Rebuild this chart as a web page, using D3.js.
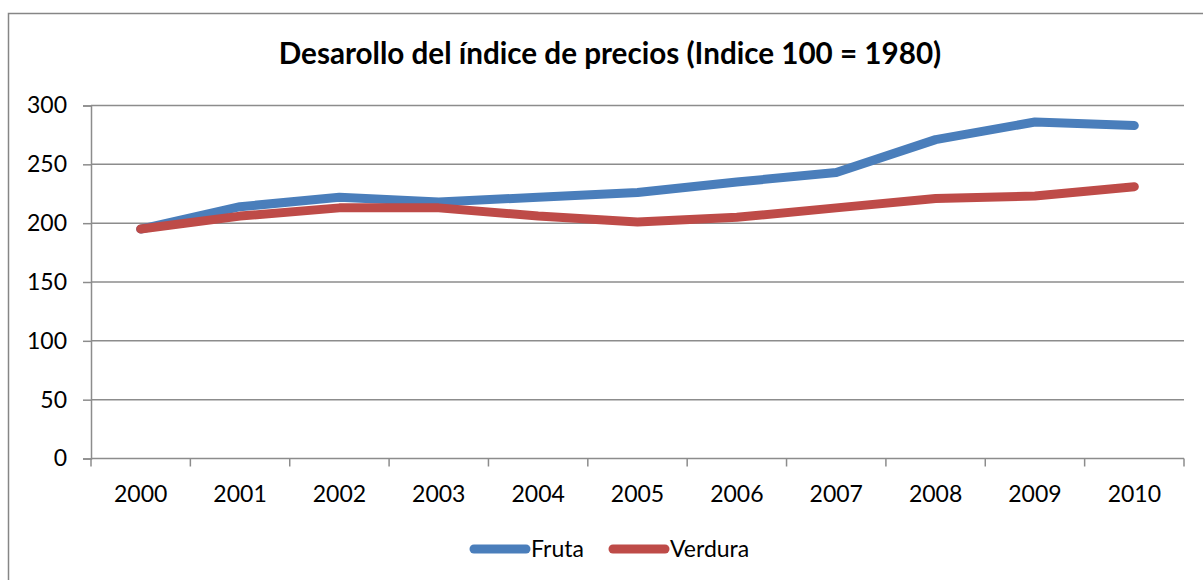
<!DOCTYPE html>
<html>
<head>
<meta charset="utf-8">
<script src="https://cdn.jsdelivr.net/npm/d3@7"></script>
<style>
  body { margin: 0; background: #fff; }
  text { font-family: Lato, "Open Sans", sans-serif; fill: #000; }
</style>
</head>
<body>
<div id="chart"></div>
<script>
var years = ['2000', '2001', '2002', '2003', '2004', '2005', '2006', '2007', '2008', '2009', '2010'];
var fruta = [195, 214, 222, 218, 222, 226, 235, 243, 271, 286, 283];
var verdura = [195, 206, 213, 213, 206, 201, 205, 213, 221, 223, 231];
var yTicks = [0, 50, 100, 150, 200, 250, 300];
var seriesNames = ['Fruta', 'Verdura'];
var seriesColors = ['#4a7ebb', '#be4b48'];

var width = 1203;
var height = 580;
var plotLeft = 91;
var plotRight = 1184;
var plotTop = 105.5;
var plotBottom = 458.5;

var svg = d3.select('#chart')
  .append('svg')
  .attr('width', width)
  .attr('height', height);

// outer chart frame (runs past the right and bottom edges)
svg.append('rect')
  .attr('x', 8.5)
  .attr('y', 13.5)
  .attr('width', 1400)
  .attr('height', 800)
  .style('fill', 'none')
  .style('stroke', '#868686')
  .style('stroke-width', 1.5);

var title = svg.append('text')
  .attr('x', 610)
  .attr('y', 64)
  .attr('text-anchor', 'middle')
  .style('font-weight', 'bold')
  .style('font-size', '22px')
  .text('Desarollo del índice de precios (Indice 100 = 1980)');

// fit title to the width seen in the picture
var tw = title.node().getComputedTextLength();
title.style('font-size', (22 * 663 / tw) + 'px');

var x = d3.scaleBand()
  .domain(years)
  .range([plotLeft, plotRight]);

var y = d3.scaleLinear()
  .domain([0, 300])
  .range([plotBottom, plotTop]);

// gridlines
svg.append('g')
  .selectAll('line')
  .data(yTicks.filter(function(d) { return d > 0; }))
  .enter()
  .append('line')
  .attr('x1', plotLeft)
  .attr('x2', plotRight)
  .attr('y1', function(d) { return y(d); })
  .attr('y2', function(d) { return y(d); })
  .style('stroke', '#8c8c8c')
  .style('stroke-width', 1.5);

// y axis
var yAxis = svg.append('g')
  .attr('transform', 'translate(' + plotLeft + ',0)')
  .call(d3.axisLeft(y).tickValues(yTicks).tickSize(8).tickPadding(16));

// x axis
var xAxis = svg.append('g')
  .attr('transform', 'translate(0,' + plotBottom + ')')
  .call(d3.axisBottom(x).tickSize(0).tickPadding(27));

xAxis.selectAll('.tick-mark')
  .data(d3.range(years.length + 1))
  .enter()
  .append('line')
  .attr('class', 'tick-mark')
  .attr('x1', function(i) { return plotLeft + i * x.step(); })
  .attr('x2', function(i) { return plotLeft + i * x.step(); })
  .attr('y1', 0)
  .attr('y2', 8)
  .style('stroke', '#8c8c8c')
  .style('stroke-width', 1.5);

[yAxis, xAxis].forEach(function(a) {
  a.select('.domain').style('stroke', '#8c8c8c').style('stroke-width', 1.5);
  a.selectAll('.tick line').style('stroke', '#8c8c8c').style('stroke-width', 1.5);
  a.selectAll('.tick text')
    .style('font-size', '23px')
    .style('font-family', 'Lato, "Open Sans", sans-serif')
    .style('fill', '#000');
});
xAxis.select('.domain').attr('d', 'M' + plotLeft + ',0H' + plotRight);

var line = d3.line()
  .x(function(d, i) { return x(years[i]) + x.bandwidth() / 2; })
  .y(function(d) { return y(d); });

[fruta, verdura].forEach(function(s, i) {
  svg.append('path')
    .datum(s)
    .attr('d', line)
    .style('fill', 'none')
    .style('stroke', seriesColors[i])
    .style('stroke-width', 9)
    .style('stroke-linecap', 'round')
    .style('stroke-linejoin', 'round');
});

// legend
var legendX = [474, 613];
var legend = svg.append('g');
seriesNames.forEach(function(name, i) {
  legend.append('line')
    .attr('x1', legendX[i])
    .attr('x2', legendX[i] + 52)
    .attr('y1', 549)
    .attr('y2', 549)
    .style('stroke', seriesColors[i])
    .style('stroke-width', 9)
    .style('stroke-linecap', 'round');
  legend.append('text')
    .attr('x', legendX[i] + 57)
    .attr('y', 557)
    .style('font-size', '23px')
    .text(name);
});
</script>
</body>
</html>
